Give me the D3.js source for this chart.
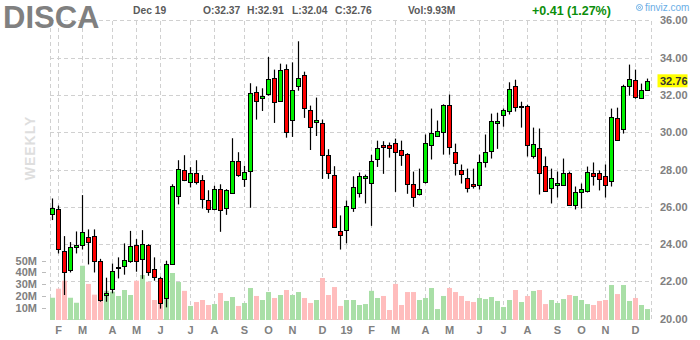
<!DOCTYPE html>
<html>
<head>
<meta charset="utf-8">
<script src="https://cdn.jsdelivr.net/npm/d3@7"></script>
<style>
  body { margin: 0; background: #fff; }
  svg { display: block; font-family: Arial, "Liberation Sans", sans-serif; }
  .grid line { stroke: #d0d0d0; stroke-dasharray: 4,3; shape-rendering: crispEdges; }
  .lbl { fill: #808080; font-weight: bold; font-size: 11px; }
</style>
</head>
<body>
<svg id="chart" width="700" height="340"></svg>
<script>
// weekly candles, Jan 22 2018 .. Dec 16 2019
var opens = [25.64,25.86,23.61,22.59,23.80,23.93,24.36,24.41,23.07,21.25,21.57,22.70,22.80,23.07,23.93,23.18,23.93,22.66,22.16,21.14,
  22.91,26.61,27.95,27.36,27.84,27.46,26.39,25.89,26.98,25.91,26.77,28.48,27.52,27.95,32.18,31.84,32.07,32.93,31.68,33.41,
  30.68,32.50,33.09,31.21,30.57,30.52,28.80,27.73,24.73,24.79,25.96,26.77,27.52,27.30,28.52,29.29,29.29,29.45,29.07,28.86,
  27.25,26.71,27.36,29.34,29.82,30.04,31.48,28.96,28.00,27.57,27.25,27.14,28.43,29.02,30.52,30.95,31.16,32.50,31.38,31.43,
  28.75,29.18,28.21,27.04,27.20,27.20,27.84,26.07,26.77,26.88,27.79,27.79,27.63,27.41,30.79,30.20,32.50,32.82,31.86,32.29];
var highs = [26.45,26.07,24.43,24.11,24.68,26.63,24.79,24.79,23.21,22.20,22.96,23.29,24.04,24.71,24.27,24.75,24.00,23.29,22.25,23.11,
  27.21,28.50,28.77,28.13,28.50,27.70,26.89,27.13,27.21,26.95,29.68,28.93,28.20,32.63,32.46,32.36,34.04,33.36,33.68,33.64,
  33.75,34.88,33.25,31.43,31.86,30.68,29.09,28.18,25.54,26.34,27.64,27.84,27.73,28.79,29.55,29.52,29.45,29.66,29.55,28.88,
  27.89,28.05,29.88,31.27,30.63,31.50,32.02,29.39,28.27,28.05,28.05,28.80,29.88,31.00,31.05,31.27,32.68,32.82,31.64,31.48,
  30.25,30.20,28.70,28.05,27.89,28.59,27.89,27.09,27.25,28.16,28.38,27.95,28.27,31.27,31.32,32.55,33.63,33.36,32.61,32.88];
var lows = [25.29,23.50,21.27,22.48,23.50,23.71,22.91,22.48,20.91,20.91,21.36,22.16,22.36,23.00,22.52,22.14,22.30,22.04,20.54,20.61,
  22.88,26.13,27.38,27.04,27.20,25.91,25.68,25.82,24.66,25.57,26.75,27.61,27.07,25.95,30.68,31.14,31.96,30.50,31.63,29.71,
  29.75,32.23,30.77,29.05,29.80,27.50,27.50,24.88,23.71,24.04,25.73,26.50,26.18,24.98,28.14,27.77,28.64,26.80,28.20,26.70,
  26.00,26.61,27.25,28.54,29.77,28.80,28.80,27.68,27.25,26.77,26.98,26.93,28.11,28.59,29.11,30.30,30.95,31.11,30.25,28.70,
  28.59,26.66,26.82,26.18,26.50,27.13,26.09,25.86,25.91,26.77,27.14,26.88,26.50,27.09,29.55,29.93,31.96,31.80,31.80,32.23];
var closes = [25.96,23.71,22.48,23.82,23.93,24.64,24.09,23.07,20.96,21.36,22.54,22.75,23.13,23.88,23.07,23.98,22.48,22.21,20.82,22.96,
  27.11,28.05,27.41,27.84,27.36,26.45,25.91,26.98,25.86,26.88,28.48,27.73,27.89,32.13,31.71,31.96,32.88,31.66,33.36,30.04,
  32.29,32.93,31.32,30.29,30.68,28.80,27.84,24.93,24.52,26.07,27.09,27.68,27.63,28.48,29.13,29.18,29.13,28.96,28.80,27.25,
  26.55,26.98,29.45,29.98,30.09,31.48,29.23,28.38,27.79,27.04,27.14,28.38,28.96,30.63,30.63,31.21,32.34,31.38,31.43,29.34,
  29.39,27.84,26.88,27.57,27.30,27.84,26.13,26.77,26.93,27.89,27.63,27.46,27.14,30.84,29.61,32.50,32.88,31.91,32.29,32.76];
// volume in millions
var volumes = [18.7,26.3,33.0,18.7,14.5,45.6,30.3,21.3,18.0,24.6,23.8,20.2,25.2,21.0,33.0,37.8,32.2,16.8,13.4,20.7,
  39.5,31.9,24.5,11.8,15.1,16.8,12.6,13.4,22.7,16.0,19.3,11.8,14.3,26.9,20.2,16.8,23.5,18.5,21.0,25.2,
  21.0,23.5,18.5,14.3,16.8,35.3,21.0,27.7,11.8,16.8,16.8,12.6,13.4,24.5,18.5,20.2,8.4,30.3,12.6,23.5,
  23.5,16.8,18.5,26.9,9.2,20.2,26.9,23.5,20.2,16.0,15.1,18.5,17.6,19.3,16.0,10.9,16.8,25.2,15.1,20.2,
  24.4,25.2,13.4,16.8,14.3,17.6,21.0,20.2,16.8,13.4,12.6,16.0,16.8,29.4,21.8,29.4,16.0,18.5,12.6,9.2];

var monthWeeks = [1,5,10,14,18,23,27,32,36,40,45,49,53,57,62,66,71,75,79,84,88,92,97];
var monthLabels = ['F','M','A','M','J','J','A','S','O','N','D','19','F','M','A','M','J','J','A','S','O','N','D'];
var priceTicks = [20,22,24,26,28,30,32,34,36];
var volTicks = [10,20,30,40,50];
var lastPrice = 32.76;

var svg = d3.select('#chart');
var x = d3.scaleBand().domain(d3.range(opens.length)).range([49.3, 649.7]);
var cx = (i) => Math.round(x(i) + x.bandwidth() / 2);
var y = d3.scaleLinear().domain([20, 36]).range([318.7, 20.4]);
var yv = d3.scaleLinear().domain([0, 50]).range([320, 260.5]);

// grid
var grid = svg.append('g').attr('class', 'grid');
grid.selectAll('line.h').data(priceTicks).enter().append('line')
  .attr('x1', 50).attr('x2', 651)
  .attr('y1', (d) => Math.round(y(d)) + 0.5).attr('y2', (d) => Math.round(y(d)) + 0.5);
grid.selectAll('line.v').data([50, 651].concat(monthWeeks.map(cx))).enter().append('line')
  .attr('x1', (d) => d + 0.5).attr('x2', (d) => d + 0.5)
  .attr('y1', 21).attr('y2', 320);

// volume
svg.append('g').selectAll('rect').data(volumes).enter().append('rect')
  .attr('x', (d, i) => cx(i) - 2)
  .attr('width', 5)
  .attr('y', (d) => yv(d))
  .attr('height', (d) => yv(0) - yv(d))
  .attr('fill', (d, i) => closes[i] >= opens[i] ? '#a9dfa7' : '#ffbdbd');

// candles
var candles = svg.append('g').selectAll('g').data(d3.range(opens.length)).enter().append('g');
candles.append('line')
  .attr('x1', (i) => cx(i) + 0.5).attr('x2', (i) => cx(i) + 0.5)
  .attr('y1', (i) => y(highs[i])).attr('y2', (i) => y(lows[i]))
  .attr('stroke', '#000').attr('stroke-width', 1.2);
candles.append('rect')
  .attr('x', (i) => cx(i) - 1.5)
  .attr('width', 4)
  .attr('y', (i) => Math.round(y(Math.max(opens[i], closes[i]))) + 0.5)
  .attr('height', (i) => Math.max(1, Math.round(Math.abs(y(opens[i]) - y(closes[i])))))
  .attr('fill', (i) => closes[i] >= opens[i] ? '#00f000' : '#ff0000')
  .attr('stroke', '#000').attr('stroke-width', 1);

// right price axis
svg.append('g').selectAll('text').data(priceTicks).enter().append('text')
  .attr('class', 'lbl').attr('x', 660).attr('y', (d) => y(d) + 4)
  .text((d) => d.toFixed(2));
svg.append('rect').attr('x', 657.5).attr('y', y(lastPrice) - 6.5)
  .attr('width', 30).attr('height', 13).attr('fill', '#ffff00');
svg.append('text').attr('class', 'lbl').style('fill', '#333')
  .attr('x', 660).attr('y', y(lastPrice) + 4).text(lastPrice.toFixed(2));

// volume axis
var va = svg.append('g');
va.selectAll('text').data(volTicks).enter().append('text')
  .attr('class', 'lbl').attr('text-anchor', 'end')
  .attr('x', 37).attr('y', (d) => yv(d) + 4).text((d) => d + 'M');
va.selectAll('line').data(volTicks).enter().append('line')
  .attr('x1', 42).attr('x2', 46)
  .attr('y1', (d) => Math.round(yv(d)) + 0.5).attr('y2', (d) => Math.round(yv(d)) + 0.5)
  .attr('stroke', '#bbb');

// month labels
svg.append('g').selectAll('text').data(monthWeeks).enter().append('text')
  .attr('class', 'lbl').attr('text-anchor', 'middle')
  .attr('x', (d) => cx(d) + 0.5).attr('y', 334)
  .text((d, i) => monthLabels[i]);

// watermark
svg.append('text').attr('transform', 'translate(35,148) rotate(-90)')
  .attr('text-anchor', 'middle').attr('fill', '#dedede')
  .attr('font-weight', 'bold').attr('font-size', 14).attr('letter-spacing', 1)
  .text('WEEKLY');

// header
svg.append('text').attr('x', 3).attr('y', 28).attr('fill', '#808080')
  .attr('font-weight', 'bold').attr('font-size', 31).text('DISCA');
var hdr = [['Dec 19', 133], ['O:32.37', 203], ['H:32.91', 247], ['L:32.04', 292], ['C:32.76', 335], ['Vol:9.93M', 408]];
svg.append('g').selectAll('text').data(hdr).enter().append('text')
  .attr('x', (d) => d[1]).attr('y', 14).attr('fill', '#5a5a5a')
  .attr('font-weight', 'bold').attr('font-size', 10.3).text((d) => d[0]);
svg.append('text').attr('x', 532).attr('y', 15).attr('fill', '#0b8e0b')
  .attr('font-weight', 'bold').attr('font-size', 12.5).text('+0.41 (1.27%)');
svg.append('circle').attr('cx', 639.5).attr('cy', 7.5).attr('r', 3)
  .attr('fill', 'none').attr('stroke', '#6aaee6');
svg.append('circle').attr('cx', 639.5).attr('cy', 7.5).attr('r', 1)
  .attr('fill', 'none').attr('stroke', '#6aaee6');
svg.append('text').attr('x', 645).attr('y', 11).attr('fill', '#6aaee6')
  .attr('font-size', 10).text('finviz.com');
</script>
</body>
</html>
